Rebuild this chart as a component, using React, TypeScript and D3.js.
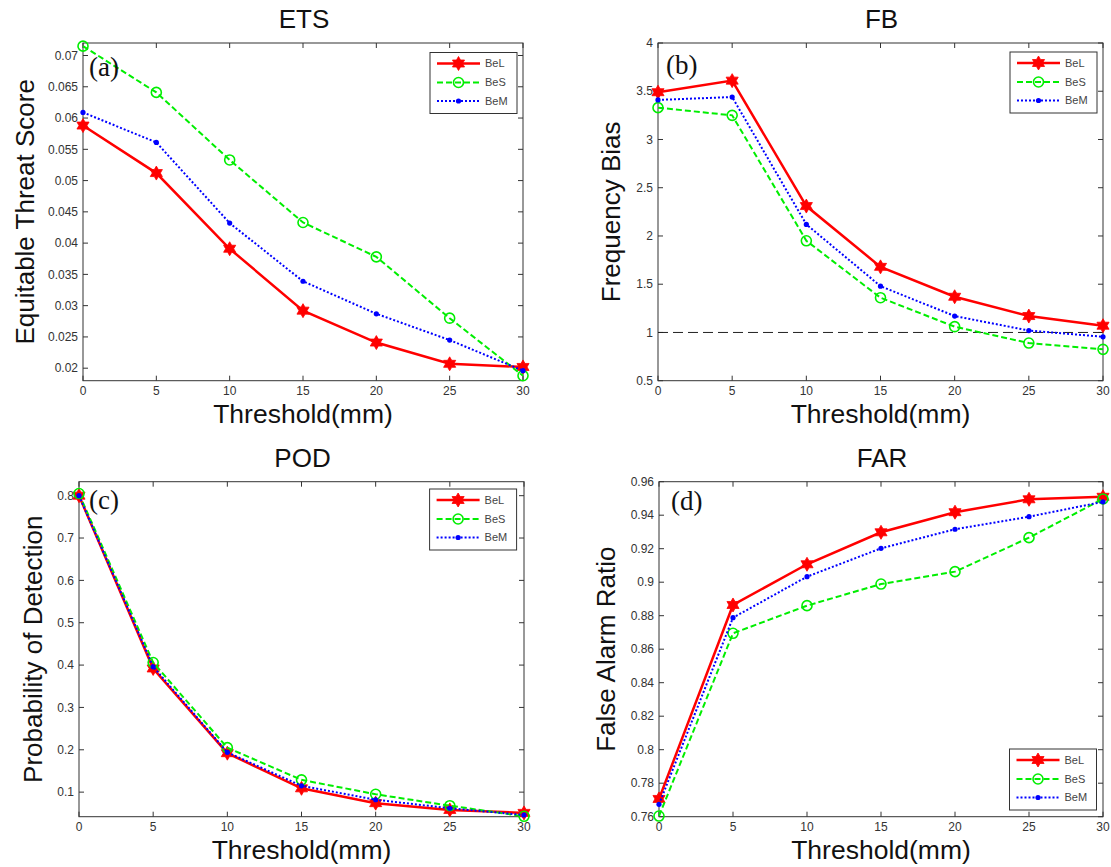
import React from "react";
import * as d3 from "d3";

// ---------- data ----------
const thresholds = [0, 5, 10, 15, 20, 25, 30];
const seriesNames = ["BeL", "BeS", "BeM"];

const etsBeL = [0.0588, 0.0512, 0.0391, 0.0292, 0.0241, 0.0207, 0.0202];
const etsBeS = [0.0715, 0.0641, 0.0533, 0.0433, 0.0378, 0.028, 0.0188];
const etsBeM = [0.0609, 0.0561, 0.0432, 0.0339, 0.0287, 0.0245, 0.0196];

const fbBeL = [3.49, 3.61, 2.31, 1.68, 1.37, 1.17, 1.07];
const fbBeS = [3.33, 3.25, 1.95, 1.36, 1.06, 0.89, 0.825];
const fbBeM = [3.41, 3.44, 2.12, 1.48, 1.17, 1.02, 0.955];

const podBeL = [0.8, 0.392, 0.192, 0.109, 0.074, 0.058, 0.051];
const podBeS = [0.805, 0.406, 0.205, 0.129, 0.095, 0.068, 0.043];
const podBeM = [0.8, 0.396, 0.194, 0.115, 0.082, 0.062, 0.046];

const farBeL = [0.7706, 0.8864, 0.9107, 0.9298, 0.9418, 0.9495, 0.951];
const farBeS = [0.7604, 0.8695, 0.886, 0.8989, 0.9063, 0.9266, 0.9497];
const farBeM = [0.7674, 0.8788, 0.9033, 0.9202, 0.9316, 0.9391, 0.948];

const xTicks = [0, 5, 10, 15, 20, 25, 30];
const etsTicks = [0.02, 0.025, 0.03, 0.035, 0.04, 0.045, 0.05, 0.055, 0.06, 0.065, 0.07];
const fbTicks = [0.5, 1, 1.5, 2, 2.5, 3, 3.5, 4];
const podTicks = [0.1, 0.2, 0.3, 0.4, 0.5, 0.6, 0.7, 0.8];
const farTicks = [0.76, 0.78, 0.8, 0.82, 0.84, 0.86, 0.88, 0.9, 0.92, 0.94, 0.96];

// ---------- layout / style ----------
const W = 1111;
const H = 867;
const SANS = "'Liberation Sans', Arial, Helvetica, sans-serif";
const SERIF = "'Liberation Serif', 'Times New Roman', serif";
const AXIS = "#333";

const styles = [
  { color: "#ff0000", width: 2.5, dash: undefined as string | undefined, marker: "star" },
  { color: "#00ee00", width: 2, dash: "6,3", marker: "circle" },
  { color: "#0000ff", width: 2, dash: "2,2", marker: "dot" },
];

type Panel = {
  title: string;
  tag: string;
  ylabel: string;
  series: number[][];
  yDomain: [number, number];
  yTicks: number[];
  box: { l: number; r: number; t: number; b: number };
  ylabelX: number;
  legend: { x: number; y: number };
  tagPos: { x: number; y: number };
  refLine?: number;
};

const panels: Panel[] = [
  {
    title: "ETS", tag: "(a)", ylabel: "Equitable Threat Score",
    series: [etsBeL, etsBeS, etsBeM], yDomain: [0.018, 0.072], yTicks: etsTicks,
    box: { l: 83, r: 523, t: 43, b: 380.7 }, ylabelX: 25,
    legend: { x: 430, y: 52.5 }, tagPos: { x: 89, y: 76 },
  },
  {
    title: "FB", tag: "(b)", ylabel: "Frequency Bias",
    series: [fbBeL, fbBeS, fbBeM], yDomain: [0.5, 4], yTicks: fbTicks,
    box: { l: 658, r: 1103, t: 43, b: 380.7 }, ylabelX: 611,
    legend: { x: 1010, y: 52 }, tagPos: { x: 666, y: 74 }, refLine: 1,
  },
  {
    title: "POD", tag: "(c)", ylabel: "Probability of Detection",
    series: [podBeL, podBeS, podBeM], yDomain: [0.042, 0.833], yTicks: podTicks,
    box: { l: 79, r: 524, t: 481.7, b: 816.7 }, ylabelX: 33,
    legend: { x: 429.6, y: 489 }, tagPos: { x: 89, y: 509 },
  },
  {
    title: "FAR", tag: "(d)", ylabel: "False Alarm Ratio",
    series: [farBeL, farBeS, farBeM], yDomain: [0.76, 0.96], yTicks: farTicks,
    box: { l: 659, r: 1103, t: 481.7, b: 816.7 }, ylabelX: 606,
    legend: { x: 1009.5, y: 749 }, tagPos: { x: 671, y: 510 },
  },
];

function starPath(cx: number, cy: number, R: number) {
  const r = R / Math.sqrt(3);
  const pts = d3.range(12).map((i) => {
    const a = -Math.PI / 2 + (i * Math.PI) / 6;
    const rad = i % 2 === 0 ? R : r;
    return [cx + rad * Math.cos(a), cy + rad * Math.sin(a)];
  });
  return "M" + pts.map((p) => p.join(",")).join("L") + "Z";
}

function Marker({ kind, x, y, color }: { kind: string; x: number; y: number; color: string }) {
  if (kind === "star") return <path d={starPath(x, y, 7)} fill={color} stroke={color} strokeWidth={0.8} />;
  if (kind === "circle") return <circle cx={x} cy={y} r={5} fill="none" stroke={color} strokeWidth={1.6} />;
  return <circle cx={x} cy={y} r={2.6} fill={color} />;
}

function fmt(v: number) {
  return String(+v.toFixed(4));
}

function PanelView({ p }: { p: Panel }) {
  const { l, r, t, b } = p.box;
  const x = d3.scaleLinear().domain([0, 30]).range([l, r]);
  const y = d3.scaleLinear().domain(p.yDomain).range([b, t]);
  const line = d3
    .line<number>()
    .x((_, i) => x(thresholds[i]))
    .y((d) => y(d));
  const cx = (l + r) / 2;
  const cy = (t + b) / 2;
  const tick = 5;
  const lg = p.legend;
  const rows = [11, 30, 48.5];
  return (
    <g>
      <text x={cx + 1} y={t - 15} textAnchor="middle" fontFamily={SANS} fontSize={26} fill="#111">
        {p.title}
      </text>
      <rect x={l} y={t} width={r - l} height={b - t} fill="#fff" stroke={AXIS} strokeWidth={1} />
      {/* x ticks */}
      {xTicks.map((v) => (
        <g key={"x" + v}>
          <line x1={x(v)} x2={x(v)} y1={b} y2={b - tick} stroke={AXIS} />
          <line x1={x(v)} x2={x(v)} y1={t} y2={t + tick} stroke={AXIS} />
          <text x={x(v)} y={b + 14} textAnchor="middle" fontFamily={SANS} fontSize={12} fill="#333">
            {v}
          </text>
        </g>
      ))}
      {/* y ticks */}
      {p.yTicks.map((v) => (
        <g key={"y" + v}>
          <line x1={l} x2={l + tick} y1={y(v)} y2={y(v)} stroke={AXIS} />
          <line x1={r} x2={r - tick} y1={y(v)} y2={y(v)} stroke={AXIS} />
          <text x={l - 5} y={y(v)} dy="0.35em" textAnchor="end" fontFamily={SANS} fontSize={12} fill="#333">
            {fmt(v)}
          </text>
        </g>
      ))}
      {p.refLine !== undefined && (
        <line x1={x(0)} x2={x(30)} y1={y(p.refLine)} y2={y(p.refLine)} stroke="#222" strokeWidth={1} strokeDasharray="10,5" />
      )}
      {p.series.map((s, si) => (
        <g key={"s" + si}>
          <path d={line(s) || ""} fill="none" stroke={styles[si].color} strokeWidth={styles[si].width} strokeDasharray={styles[si].dash} />
          {s.map((v, i) => (
            <Marker key={i} kind={styles[si].marker} x={x(thresholds[i])} y={y(v)} color={styles[si].color} />
          ))}
        </g>
      ))}
      <text x={p.tagPos.x} y={p.tagPos.y} fontFamily={SERIF} fontSize={27} fill="#111">
        {p.tag}
      </text>
      {/* legend */}
      <rect x={lg.x} y={lg.y} width={87} height={61} fill="#fff" stroke={AXIS} strokeWidth={1} />
      {seriesNames.map((n, si) => (
        <g key={"l" + n}>
          <line x1={lg.x + 7} x2={lg.x + 50} y1={lg.y + rows[si]} y2={lg.y + rows[si]} stroke={styles[si].color} strokeWidth={styles[si].width} strokeDasharray={styles[si].dash} />
          <Marker kind={styles[si].marker} x={lg.x + 28.5} y={lg.y + rows[si]} color={styles[si].color} />
          <text x={lg.x + 55} y={lg.y + rows[si]} dy="0.35em" fontFamily={SANS} fontSize={11} fill="#444">
            {n}
          </text>
        </g>
      ))}
      {/* axis labels */}
      <text x={cx} y={b + 42} textAnchor="middle" fontFamily={SANS} fontSize={26.5} fill="#111">
        Threshold(mm)
      </text>
      <text
        transform={`translate(${p.ylabelX},${cy}) rotate(-90)`}
        textAnchor="middle"
        dominantBaseline="central"
        fontFamily={SANS}
        fontSize={26}
        fill="#111"
      >
        {p.ylabel}
      </text>
    </g>
  );
}

export default function App() {
  return (
    <svg
      width={W}
      height={H}
      viewBox={`0 0 ${W} ${H}`}
      style={{ position: "absolute", left: 0, top: 0, background: "#fff" }}
    >
      <rect x={0} y={0} width={W} height={H} fill="#fff" />
      {panels.map((p) => (
        <PanelView key={p.title} p={p} />
      ))}
    </svg>
  );
}
